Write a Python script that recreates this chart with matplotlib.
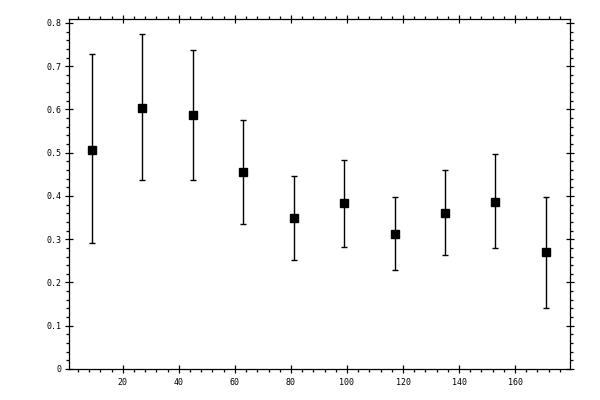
import matplotlib
matplotlib.use("Agg")
import matplotlib.pyplot as plt
from matplotlib.ticker import MultipleLocator, FuncFormatter

x = [9, 27, 45, 63, 81, 99, 117, 135, 153, 171]
y = [0.507, 0.603, 0.588, 0.456, 0.348, 0.383, 0.313, 0.360, 0.387, 0.270]
y_hi = [0.727, 0.774, 0.737, 0.575, 0.445, 0.483, 0.398, 0.459, 0.496, 0.397]
y_lo = [0.291, 0.436, 0.436, 0.336, 0.251, 0.281, 0.228, 0.263, 0.279, 0.140]

err_lo = [a - b for a, b in zip(y, y_lo)]
err_hi = [b - a for a, b in zip(y, y_hi)]

fig = plt.figure(figsize=(6, 4), dpi=100)
ax = fig.add_axes([69/600, 1-369/400, 501/600, 350/400])
ax.errorbar(x, y, yerr=[err_lo, err_hi], fmt='s', color='black', ms=5.5,
            elinewidth=1.0, capsize=2.5, capthick=1.0, ecolor='black')
ax.set_xlim(0.8, 179.6)
ax.set_ylim(0, 0.809)
ax.xaxis.set_major_locator(MultipleLocator(20))
ax.xaxis.set_minor_locator(MultipleLocator(4))
ax.yaxis.set_major_locator(MultipleLocator(0.1))
ax.yaxis.set_minor_locator(MultipleLocator(0.02))

ax.xaxis.set_major_formatter(FuncFormatter(lambda v, p: '' if abs(v) < 1e-9 else f'{v:.0f}'))
ax.yaxis.set_major_formatter(FuncFormatter(lambda v, p: '0' if abs(v) < 1e-9 else f'{v:.1f}'))

for s in ax.spines.values():
    s.set_linewidth(0.9)
ax.tick_params(which='major', direction='inout', length=5.8, width=0.9,
               top=True, right=True, labelsize=6)
ax.tick_params(axis='x', which='major', pad=3.6)
ax.tick_params(axis='y', which='major', pad=2.4)
ax.tick_params(which='minor', direction='out', length=2.3, width=0.9,
               top=True, right=True)
for lab in ax.get_xticklabels() + ax.get_yticklabels():
    lab.set_family('DejaVu Sans Mono')

fig.savefig('out.png', dpi=100)
